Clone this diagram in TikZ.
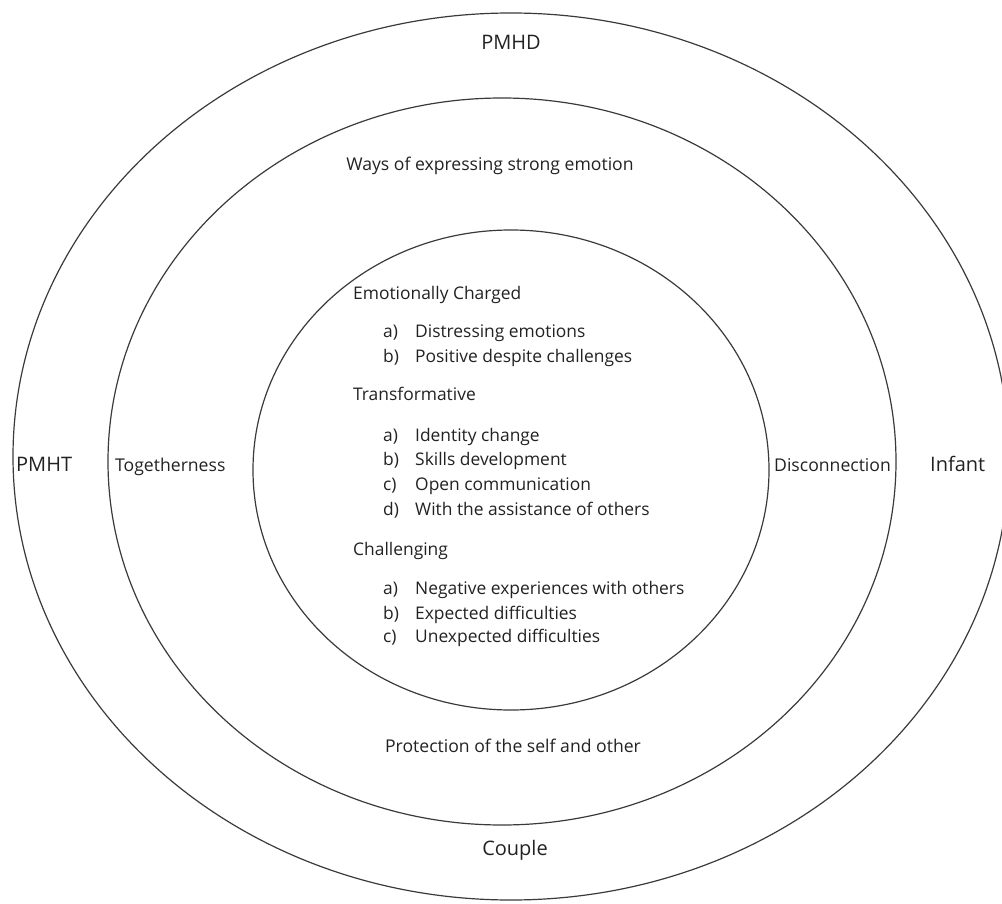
\documentclass[tikz,border=0pt]{standalone}
\usepackage{fontspec}
\setmainfont{Open Sans}
\definecolor{ringline}{HTML}{3A3A3A}
\definecolor{txt}{HTML}{222222}
\tikzset{
  ring/.style={draw=ringline, line width=1.2pt},
  biglabel/.style={text=txt, font=\fontsize{20}{24}\selectfont, inner sep=0pt},
  midlabel/.style={text=txt, font=\fontsize{17.6}{20}\selectfont, inner sep=0pt},
  innerlabel/.style={text=txt, font=\fontsize{17.4}{20}\selectfont, inner sep=0pt, anchor=mid west},
}
\begin{document}
\begin{tikzpicture}[x=1pt,y=-1pt]
\useasboundingbox (0,0) rectangle (1002,904);
% rings
\draw[ring] (511,456.5) ellipse [x radius=498, y radius=443.5];
\draw[ring] (502,461.5) ellipse [x radius=394, y radius=363.5];
\draw[ring] (511,470) ellipse [x radius=258, y radius=240];
% outer labels
\node[biglabel, anchor=mid] (pmhd) at (511,47) {PMHD};
\node[biglabel, anchor=mid west] (pmht) at (16,469) {PMHT};
\node[biglabel, anchor=mid west] (infant) at (930,469) {Infant};
\node[biglabel, anchor=mid] (couple) at (515,853) {Couple};
% middle labels
\node[midlabel, anchor=mid] (ways) at (490,168) {Ways of expressing strong emotion};
\node[midlabel, anchor=mid west] (together) at (115,469) {Togetherness};
\node[midlabel, anchor=mid west] (disconn) at (774,469) {Disconnection};
\node[midlabel, anchor=mid] (protect) at (513,750) {Protection of the self and other};
% inner list
\node[innerlabel] (h1) at (353,297) {Emotionally Charged};
\node[innerlabel] (h1a) at (383,335) {a)};
\node[innerlabel] (h1at) at (415,335) {Distressing emotions};
\node[innerlabel] (h1b) at (383,360) {b)};
\node[innerlabel] (h1bt) at (415,360) {Positive despite challenges};
\node[innerlabel] (h2) at (353,398) {Transformative};
\node[innerlabel] (h2a) at (383,439) {a)};
\node[innerlabel] (h2at) at (415,439) {Identity change};
\node[innerlabel] (h2b) at (383,463) {b)};
\node[innerlabel] (h2bt) at (415,463) {Skills development};
\node[innerlabel] (h2c) at (383,488) {c)};
\node[innerlabel] (h2ct) at (415,488) {Open communication};
\node[innerlabel] (h2d) at (383,513) {d)};
\node[innerlabel] (h2dt) at (415,513) {With the assistance of others};
\node[innerlabel] (h3) at (353,553) {Challenging};
\node[innerlabel] (h3a) at (383,592) {a)};
\node[innerlabel] (h3at) at (415,592) {Negative experiences with others};
\node[innerlabel] (h3b) at (383,617) {b)};
\node[innerlabel] (h3bt) at (415,617) {Expected difficulties};
\node[innerlabel] (h3c) at (383,640) {c)};
\node[innerlabel] (h3ct) at (415,640) {Unexpected difficulties};
\end{tikzpicture}
\end{document}
